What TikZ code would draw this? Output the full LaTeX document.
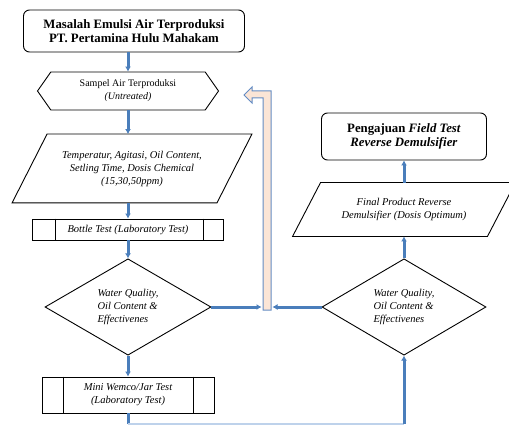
\documentclass[tikz,border=0pt]{standalone}
\usepackage{fontspec}
\setmainfont{Liberation Serif}
\usetikzlibrary{shapes.geometric,shapes.symbols,arrows.meta}
\definecolor{flowblue}{RGB}{74,126,187}
\definecolor{flowlight}{RGB}{190,210,235}
\definecolor{barfill}{RGB}{251,229,214}
\definecolor{barline}{RGB}{100,140,195}

\begin{document}
\begin{tikzpicture}[x=1pt,y=-1pt,
  every node/.style={draw,line width=0.9pt,fill=white,inner sep=1pt,align=center,font=\fontsize{10.5}{13}\selectfont\itshape},
  link/.style={line width=3pt,draw=flowblue,-{Latex[length=5pt,width=6pt]}},
  terminal/.style={rounded corners=6pt,font=\fontsize{12.8}{14}\selectfont\bfseries},
  decision/.style={diamond,inner sep=0pt,minimum width=166,minimum height=96,align=left},
  inout/.style={draw=none,fill=none},
  process/.style={rectangle,inner sep=0pt}]
  \useasboundingbox (0,0) rectangle (509,425);
  \path (134,31) node[terminal,minimum width=221,minimum height=42] (masalah) {Masalah Emulsi Air Terproduksi\\PT. Pertamina Hulu Mahakam}
  (128,91) node[signal,signal to=west and east,signal pointer angle=110,minimum width=181,minimum height=38,inner sep=0pt,font=\fontsize{10}{13}\selectfont] (sampel) {Sampel Air Terproduksi\\\textit{(Untreated)}}
  (132,168.5) node[inout,minimum width=239,minimum height=68] (param) {Temperatur, Agitasi, Oil Content,\\Setling Time, Dosis Chemical\\(15,30,50ppm)}
  (128,229.5) node[process,minimum width=191,minimum height=21] (bottle) {Bottle Test (Laboratory Test)}
  (128,307) node[decision] (wq1) {Water Quality,\\Oil Content \&\\Effectivenes}
  (128,395) node[process,minimum width=172,minimum height=36] (wemco) {Mini Wemco/Jar Test\\(Laboratory Test)}
  (404,307) node[decision,minimum width=164] (wq2) {Water Quality,\\Oil Content \&\\Effectivenes}
  (404,209.5) node[inout,minimum width=222,minimum height=53] (final) {Final Product Reverse\\Demulsifier (Dosis Optimum)}
  (404,136.5) node[terminal,minimum width=165,minimum height=47] (pengajuan) {Pengajuan \textit{Field Test}\\\textit{Reverse Demulsifier}};
  % slanted sides of the input boxes
  \draw[line width=0.9pt] (param.south west) -- ([xshift=35]param.north west) -- (param.north east)
    -- ([xshift=-35]param.south east) -- cycle;
  \draw[line width=0.9pt] (final.south west) -- ([xshift=28]final.north west) -- (final.north east)
    -- ([xshift=-28]final.south east) -- cycle;
  % side bars of the predefined processes
  \draw[line width=0.9pt] ([xshift=23]bottle.north west) -- ([xshift=23]bottle.south west)
    ([xshift=-21]bottle.north east) -- ([xshift=-21]bottle.south east);
  \draw[line width=0.9pt] ([xshift=22]wemco.north west) -- ([xshift=22]wemco.south west)
    ([xshift=-21]wemco.north east) -- ([xshift=-21]wemco.south east);
  % return bar
  \draw[line width=1pt,draw=barline,fill=barfill] (263,310) -- (263,98) -- (252,98) -- (252,103)
    -- (244,95) -- (252,87) -- (252,91) -- (271,91) -- (271,310) -- cycle;
  \coordinate (barL) at (261.5,307);
  \coordinate (barR) at (272.5,307);
  \coordinate (c1) at (128,424);
  \coordinate (c2) at (404,424);
  \draw[link] (masalah.south -| sampel.north) -- (sampel.north);
  \draw[link] (sampel.south) -- (sampel.south |- param.north);
  \draw[link] (param.south -| bottle.north) -- (bottle.north);
  \draw[link] (bottle.south) -- (wq1.north);
  \draw[link] (wq1.south) -- (wemco.north);
  \draw[link] (wq1.east) -- (barL);
  \draw[link] (wq2.west) -- (barR);
  \draw[link] (wq2.north) -- (final.south);
  \draw[link] (final.north) -- (pengajuan.south);
  \draw[link,-] (wemco.south) -- (c1);
  \draw[line width=1.6pt,draw=flowlight] (c1) -- (c2);
  \draw[link] (c2) -- (wq2.south);
\end{tikzpicture}
\end{document}
